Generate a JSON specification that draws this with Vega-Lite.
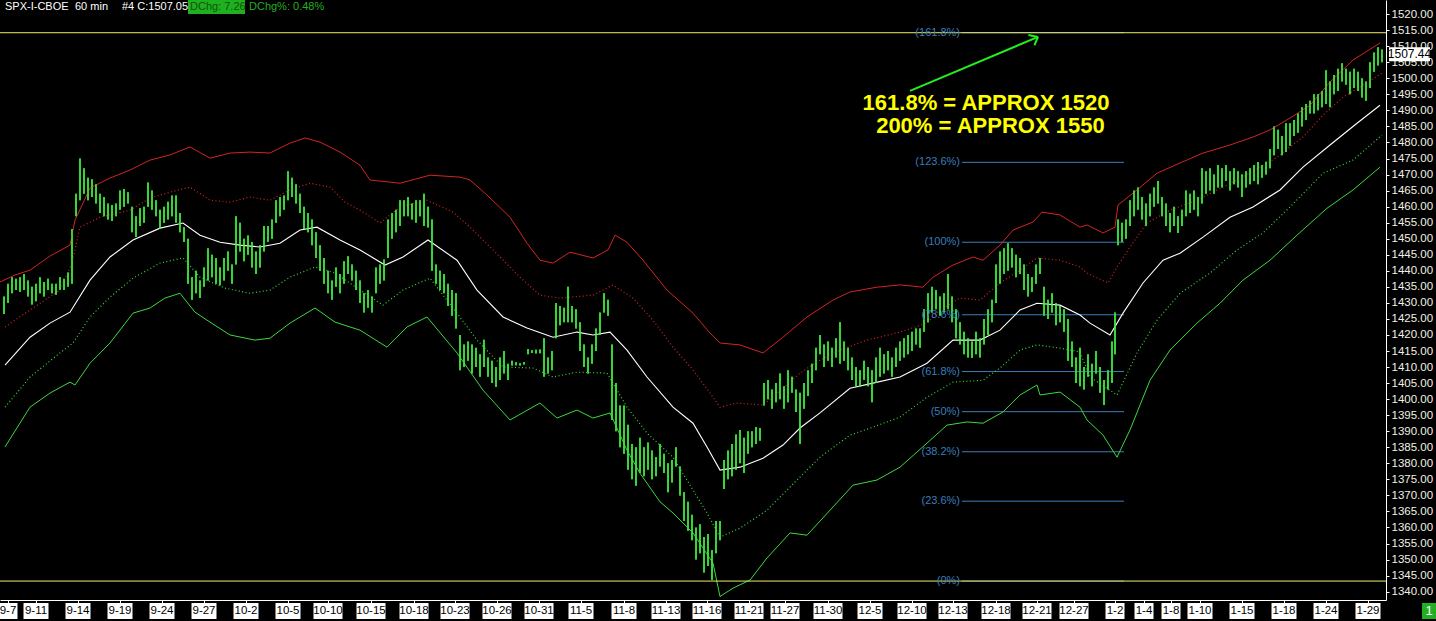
{
"$schema":"https://vega.github.io/schema/vega-lite/v6.json",
"width":1386,"height":600,
"autosize":{"type":"none"},
"padding":{"left":0,"top":0,"right":50,"bottom":21},
"background":"#000000",
"config":{"view":{"stroke":null},"axis":{"grid":false,"title":null,"labelOverlap":false},"scale":{"continuousPadding":0}},
"resolve":{"axis":{"x":"independent","y":"independent"}},
"datasets":{
"bars":[
{"i":2,"lo":1426.5,"hi":1432},{"i":4,"lo":1430,"hi":1436},{"i":6,"lo":1433,"hi":1438},{"i":8,"lo":1434,"hi":1437.5},{"i":10,"lo":1433.5,"hi":1438},{"i":12,"lo":1434,"hi":1439},{"i":14,"lo":1432,"hi":1437},{"i":16,"lo":1429.5,"hi":1435},{"i":18,"lo":1430.5,"hi":1436},{"i":20,"lo":1433,"hi":1438},{"i":22,"lo":1432,"hi":1436.5},{"i":24,"lo":1434,"hi":1437.5},{"i":26,"lo":1433,"hi":1436},{"i":28,"lo":1432.5,"hi":1436},{"i":30,"lo":1434,"hi":1438},{"i":32,"lo":1434,"hi":1437.5},{"i":34,"lo":1435,"hi":1439.5},{"i":36,"lo":1436,"hi":1453},{"i":38,"lo":1457,"hi":1464},{"i":40,"lo":1462,"hi":1475},{"i":42,"lo":1464,"hi":1472},{"i":44,"lo":1462,"hi":1469},{"i":46,"lo":1463,"hi":1468.5},{"i":48,"lo":1461,"hi":1467},{"i":50,"lo":1458,"hi":1464},{"i":52,"lo":1457,"hi":1463},{"i":54,"lo":1456,"hi":1461},{"i":56,"lo":1455.5,"hi":1460.5},{"i":58,"lo":1457,"hi":1461},{"i":60,"lo":1459,"hi":1465},{"i":62,"lo":1460,"hi":1465.5},{"i":64,"lo":1461,"hi":1464.5},{"i":66,"lo":1452,"hi":1460},{"i":68,"lo":1450.5,"hi":1457},{"i":70,"lo":1454,"hi":1459.5},{"i":72,"lo":1455,"hi":1460},{"i":74,"lo":1460,"hi":1467.5},{"i":76,"lo":1459,"hi":1465},{"i":78,"lo":1457,"hi":1462},{"i":80,"lo":1453,"hi":1459},{"i":82,"lo":1455,"hi":1460},{"i":84,"lo":1456,"hi":1461.5},{"i":86,"lo":1457,"hi":1463.5},{"i":88,"lo":1455,"hi":1463.5},{"i":90,"lo":1452,"hi":1458},{"i":92,"lo":1449,"hi":1453.6},{"i":94,"lo":1436,"hi":1450},{"i":96,"lo":1431,"hi":1438},{"i":98,"lo":1433,"hi":1440},{"i":100,"lo":1431.5,"hi":1437},{"i":102,"lo":1435,"hi":1441},{"i":104,"lo":1437,"hi":1447},{"i":106,"lo":1438,"hi":1445},{"i":108,"lo":1436,"hi":1444},{"i":110,"lo":1435.5,"hi":1441},{"i":112,"lo":1437,"hi":1444},{"i":114,"lo":1440,"hi":1446},{"i":116,"lo":1436,"hi":1442},{"i":118,"lo":1442,"hi":1457},{"i":120,"lo":1446,"hi":1455},{"i":122,"lo":1443,"hi":1450},{"i":124,"lo":1445,"hi":1451},{"i":126,"lo":1441,"hi":1449},{"i":128,"lo":1439,"hi":1446},{"i":130,"lo":1441,"hi":1448},{"i":132,"lo":1446,"hi":1454},{"i":134,"lo":1449,"hi":1454},{"i":136,"lo":1450,"hi":1456},{"i":138,"lo":1455,"hi":1462},{"i":140,"lo":1457,"hi":1463},{"i":142,"lo":1459,"hi":1463.5},{"i":144,"lo":1462,"hi":1471},{"i":146,"lo":1463,"hi":1469},{"i":148,"lo":1461,"hi":1467},{"i":150,"lo":1458,"hi":1464},{"i":152,"lo":1453,"hi":1460},{"i":154,"lo":1452,"hi":1458},{"i":156,"lo":1448,"hi":1456},{"i":158,"lo":1444,"hi":1452},{"i":160,"lo":1440,"hi":1448},{"i":162,"lo":1436,"hi":1444},{"i":164,"lo":1433,"hi":1440},{"i":166,"lo":1431,"hi":1437},{"i":168,"lo":1435,"hi":1441},{"i":170,"lo":1433,"hi":1439},{"i":172,"lo":1436,"hi":1443},{"i":174,"lo":1439,"hi":1444.5},{"i":176,"lo":1437,"hi":1442},{"i":178,"lo":1434,"hi":1440},{"i":180,"lo":1430,"hi":1437},{"i":182,"lo":1427,"hi":1433},{"i":184,"lo":1428.5,"hi":1434},{"i":186,"lo":1427,"hi":1432},{"i":188,"lo":1433,"hi":1441},{"i":190,"lo":1436,"hi":1442},{"i":192,"lo":1437,"hi":1443.5},{"i":194,"lo":1444,"hi":1456},{"i":196,"lo":1450,"hi":1458},{"i":198,"lo":1452,"hi":1459},{"i":200,"lo":1454,"hi":1462},{"i":202,"lo":1457,"hi":1462},{"i":204,"lo":1457,"hi":1463},{"i":206,"lo":1456,"hi":1461},{"i":208,"lo":1455,"hi":1462},{"i":210,"lo":1457,"hi":1462},{"i":212,"lo":1454,"hi":1464},{"i":214,"lo":1453.5,"hi":1460},{"i":216,"lo":1440,"hi":1456},{"i":218,"lo":1436,"hi":1442},{"i":220,"lo":1434,"hi":1440},{"i":222,"lo":1433,"hi":1439},{"i":224,"lo":1429,"hi":1436},{"i":226,"lo":1426,"hi":1434},{"i":228,"lo":1422,"hi":1433},{"i":230,"lo":1409,"hi":1420},{"i":232,"lo":1410,"hi":1417},{"i":234,"lo":1412,"hi":1418},{"i":236,"lo":1408,"hi":1417},{"i":238,"lo":1410,"hi":1416},{"i":240,"lo":1407,"hi":1414},{"i":242,"lo":1410,"hi":1418.5},{"i":244,"lo":1407,"hi":1413},{"i":246,"lo":1405,"hi":1412},{"i":248,"lo":1403.8,"hi":1410},{"i":250,"lo":1406,"hi":1413},{"i":252,"lo":1408,"hi":1415},{"i":254,"lo":1406,"hi":1411},{"i":256,"lo":1410.5,"hi":1412},{"i":258,"lo":1410.6,"hi":1411.5},{"i":260,"lo":1410.5,"hi":1411.2},{"i":262,"lo":1410.8,"hi":1411.6},{"i":264,"lo":1414,"hi":1415.6},{"i":266,"lo":1414.4,"hi":1415.2},{"i":268,"lo":1414.2,"hi":1415.4},{"i":270,"lo":1414.3,"hi":1415.5},{"i":272,"lo":1407,"hi":1419},{"i":274,"lo":1408,"hi":1413},{"i":276,"lo":1409,"hi":1415},{"i":278,"lo":1419,"hi":1430},{"i":280,"lo":1423,"hi":1429},{"i":282,"lo":1424,"hi":1428.5},{"i":284,"lo":1424,"hi":1435},{"i":286,"lo":1424,"hi":1429},{"i":288,"lo":1422,"hi":1428},{"i":290,"lo":1415,"hi":1424},{"i":292,"lo":1410,"hi":1417},{"i":294,"lo":1408,"hi":1413},{"i":296,"lo":1411,"hi":1417},{"i":298,"lo":1415,"hi":1422},{"i":300,"lo":1420,"hi":1427},{"i":302,"lo":1427,"hi":1433},{"i":304,"lo":1426,"hi":1431},{"i":306,"lo":1393.5,"hi":1417},{"i":308,"lo":1390,"hi":1405},{"i":310,"lo":1385,"hi":1398},{"i":312,"lo":1383,"hi":1398},{"i":314,"lo":1378,"hi":1392},{"i":316,"lo":1375,"hi":1386},{"i":318,"lo":1373,"hi":1385},{"i":320,"lo":1377,"hi":1388},{"i":322,"lo":1376,"hi":1385},{"i":324,"lo":1378,"hi":1386.5},{"i":326,"lo":1375,"hi":1384},{"i":328,"lo":1376,"hi":1382},{"i":330,"lo":1379,"hi":1386},{"i":332,"lo":1377,"hi":1383},{"i":334,"lo":1371,"hi":1380},{"i":336,"lo":1374,"hi":1381},{"i":338,"lo":1379,"hi":1385},{"i":340,"lo":1370,"hi":1379},{"i":342,"lo":1362,"hi":1371},{"i":344,"lo":1359,"hi":1368},{"i":346,"lo":1356,"hi":1364},{"i":348,"lo":1350,"hi":1360},{"i":350,"lo":1352,"hi":1361},{"i":352,"lo":1346,"hi":1357},{"i":354,"lo":1348,"hi":1358},{"i":356,"lo":1343.6,"hi":1353},{"i":358,"lo":1352,"hi":1362},{"i":360,"lo":1356,"hi":1362},{"i":362,"lo":1372,"hi":1381},{"i":364,"lo":1375,"hi":1384},{"i":366,"lo":1376,"hi":1386},{"i":368,"lo":1378,"hi":1389},{"i":370,"lo":1380,"hi":1390.4},{"i":372,"lo":1377,"hi":1388},{"i":374,"lo":1383,"hi":1390},{"i":376,"lo":1385,"hi":1390},{"i":378,"lo":1386,"hi":1391.3},{"i":380,"lo":1387,"hi":1391},{"i":382,"lo":1398,"hi":1405},{"i":384,"lo":1400,"hi":1406},{"i":386,"lo":1397,"hi":1403},{"i":388,"lo":1399,"hi":1405},{"i":390,"lo":1400,"hi":1408},{"i":392,"lo":1397,"hi":1404},{"i":394,"lo":1399,"hi":1409},{"i":396,"lo":1402,"hi":1407},{"i":398,"lo":1396,"hi":1403},{"i":400,"lo":1386,"hi":1402},{"i":402,"lo":1397,"hi":1405},{"i":404,"lo":1401,"hi":1409},{"i":406,"lo":1405,"hi":1411},{"i":408,"lo":1409,"hi":1416},{"i":410,"lo":1414,"hi":1420},{"i":412,"lo":1410,"hi":1417},{"i":414,"lo":1412,"hi":1418},{"i":416,"lo":1410,"hi":1416},{"i":418,"lo":1413,"hi":1419},{"i":420,"lo":1411,"hi":1424},{"i":422,"lo":1412,"hi":1418},{"i":424,"lo":1409,"hi":1416},{"i":426,"lo":1406,"hi":1413},{"i":428,"lo":1404,"hi":1410},{"i":430,"lo":1403.8,"hi":1409},{"i":432,"lo":1406,"hi":1412},{"i":434,"lo":1404,"hi":1410},{"i":436,"lo":1399,"hi":1409},{"i":438,"lo":1405,"hi":1413},{"i":440,"lo":1407,"hi":1416},{"i":442,"lo":1408,"hi":1414},{"i":444,"lo":1409,"hi":1415},{"i":446,"lo":1407,"hi":1413},{"i":448,"lo":1410,"hi":1416},{"i":450,"lo":1412,"hi":1418},{"i":452,"lo":1413,"hi":1419},{"i":454,"lo":1414,"hi":1420},{"i":456,"lo":1415,"hi":1421},{"i":458,"lo":1417,"hi":1422},{"i":460,"lo":1416,"hi":1422},{"i":462,"lo":1421,"hi":1428},{"i":464,"lo":1424,"hi":1433},{"i":466,"lo":1427,"hi":1435},{"i":468,"lo":1428,"hi":1434},{"i":470,"lo":1426,"hi":1432},{"i":472,"lo":1427,"hi":1433},{"i":474,"lo":1428,"hi":1439},{"i":476,"lo":1424,"hi":1432},{"i":478,"lo":1419,"hi":1428},{"i":480,"lo":1417,"hi":1424},{"i":482,"lo":1414,"hi":1421},{"i":484,"lo":1413,"hi":1419},{"i":486,"lo":1412.8,"hi":1418},{"i":488,"lo":1414,"hi":1421},{"i":490,"lo":1413,"hi":1419},{"i":492,"lo":1417,"hi":1425},{"i":494,"lo":1420,"hi":1428},{"i":496,"lo":1424,"hi":1431},{"i":498,"lo":1430,"hi":1442},{"i":500,"lo":1436,"hi":1446},{"i":502,"lo":1439,"hi":1447},{"i":504,"lo":1440,"hi":1448.6},{"i":506,"lo":1441,"hi":1447},{"i":508,"lo":1438,"hi":1445},{"i":510,"lo":1439,"hi":1444},{"i":512,"lo":1434,"hi":1442},{"i":514,"lo":1432,"hi":1439},{"i":516,"lo":1433.4,"hi":1438},{"i":518,"lo":1436,"hi":1442},{"i":520,"lo":1439,"hi":1444},{"i":522,"lo":1426,"hi":1435},{"i":524,"lo":1425,"hi":1431},{"i":526,"lo":1427,"hi":1433},{"i":528,"lo":1423,"hi":1430},{"i":530,"lo":1424,"hi":1429},{"i":532,"lo":1421,"hi":1428},{"i":534,"lo":1412,"hi":1425},{"i":536,"lo":1410,"hi":1418},{"i":538,"lo":1405,"hi":1413},{"i":540,"lo":1404,"hi":1416},{"i":542,"lo":1403,"hi":1410},{"i":544,"lo":1407,"hi":1414},{"i":546,"lo":1404,"hi":1411},{"i":548,"lo":1408,"hi":1415},{"i":550,"lo":1402,"hi":1410},{"i":552,"lo":1398.2,"hi":1406},{"i":554,"lo":1403,"hi":1409},{"i":556,"lo":1405,"hi":1418},{"i":557.5,"lo":1414,"hi":1427},{"i":559,"lo":1448,"hi":1456},{"i":561,"lo":1449,"hi":1455},{"i":563,"lo":1450,"hi":1456},{"i":565,"lo":1454,"hi":1462},{"i":567,"lo":1457,"hi":1465},{"i":569,"lo":1459,"hi":1466},{"i":571,"lo":1456,"hi":1463},{"i":573,"lo":1454,"hi":1461},{"i":575,"lo":1457,"hi":1464},{"i":577,"lo":1460,"hi":1466},{"i":579,"lo":1461,"hi":1468},{"i":581,"lo":1457,"hi":1463},{"i":583,"lo":1454,"hi":1461},{"i":585,"lo":1452,"hi":1458},{"i":587,"lo":1454,"hi":1460},{"i":589,"lo":1451.8,"hi":1457},{"i":591,"lo":1454,"hi":1459},{"i":593,"lo":1457,"hi":1465},{"i":595,"lo":1458,"hi":1464},{"i":597,"lo":1459,"hi":1465},{"i":599,"lo":1457,"hi":1463},{"i":601,"lo":1461,"hi":1472},{"i":603,"lo":1464,"hi":1471},{"i":605,"lo":1465,"hi":1472},{"i":607,"lo":1464,"hi":1470},{"i":609,"lo":1466,"hi":1473},{"i":611,"lo":1466,"hi":1472},{"i":613,"lo":1468,"hi":1473},{"i":615,"lo":1465,"hi":1471},{"i":617,"lo":1467,"hi":1472},{"i":619,"lo":1466,"hi":1471},{"i":621,"lo":1463,"hi":1470},{"i":623,"lo":1466,"hi":1471},{"i":625,"lo":1467,"hi":1472},{"i":627,"lo":1468,"hi":1473},{"i":629,"lo":1467,"hi":1473.9},{"i":631,"lo":1469,"hi":1473},{"i":633,"lo":1470,"hi":1474},{"i":635,"lo":1472,"hi":1478},{"i":637,"lo":1476,"hi":1485},{"i":639,"lo":1478,"hi":1484},{"i":641,"lo":1476,"hi":1482},{"i":643,"lo":1477,"hi":1486},{"i":645,"lo":1479,"hi":1486},{"i":647,"lo":1482,"hi":1487},{"i":649,"lo":1483,"hi":1489},{"i":651,"lo":1485,"hi":1491},{"i":653,"lo":1487,"hi":1492},{"i":655,"lo":1489,"hi":1493},{"i":657,"lo":1489,"hi":1495},{"i":659,"lo":1490,"hi":1495},{"i":661,"lo":1491,"hi":1496},{"i":663,"lo":1492,"hi":1502.5},{"i":665,"lo":1491,"hi":1499},{"i":667,"lo":1495,"hi":1501},{"i":669,"lo":1496,"hi":1503},{"i":671,"lo":1499,"hi":1504.7},{"i":673,"lo":1498,"hi":1503},{"i":675,"lo":1495,"hi":1502},{"i":677,"lo":1497,"hi":1503},{"i":679,"lo":1496,"hi":1502},{"i":681,"lo":1494,"hi":1500},{"i":683,"lo":1493,"hi":1499},{"i":685,"lo":1497,"hi":1505},{"i":687,"lo":1502,"hi":1508},{"i":689,"lo":1504,"hi":1509.7},{"i":691,"lo":1505,"hi":1509}
],
"bands":[
{"s":"U","i":0,"p":1436.5},{"s":"U","i":7.5,"p":1438.7},{"s":"U","i":15,"p":1440.2},{"s":"U","i":25,"p":1444.6},{"s":"U","i":35,"p":1448.0},{"s":"U","i":37.5,"p":1455.8},{"s":"U","i":45,"p":1465.8},{"s":"U","i":55,"p":1468.9},{"s":"U","i":65,"p":1471.4},{"s":"U","i":75,"p":1474.5},{"s":"U","i":85,"p":1476.1},{"s":"U","i":95,"p":1478.6},{"s":"U","i":105,"p":1475.1},{"s":"U","i":115,"p":1476.7},{"s":"U","i":125,"p":1477.0},{"s":"U","i":135,"p":1476.7},{"s":"U","i":145,"p":1479.8},{"s":"U","i":152.5,"p":1481.4},{"s":"U","i":160,"p":1480.1},{"s":"U","i":170,"p":1477.0},{"s":"U","i":180,"p":1472.9},{"s":"U","i":185,"p":1468.3},{"s":"U","i":200,"p":1467.3},{"s":"U","i":215,"p":1469.8},{"s":"U","i":230,"p":1469.2},{"s":"U","i":235,"p":1468.3},{"s":"U","i":243.5,"p":1463.6},{"s":"U","i":255,"p":1456.7},{"s":"U","i":263.5,"p":1448.6},{"s":"U","i":270,"p":1443.3},{"s":"U","i":276.5,"p":1442.4},{"s":"U","i":285,"p":1445.8},{"s":"U","i":296.5,"p":1444.0},{"s":"U","i":304,"p":1446.5},{"s":"U","i":307.5,"p":1451.1},{"s":"U","i":313.5,"p":1448.9},{"s":"U","i":321.5,"p":1443.3},{"s":"U","i":333.5,"p":1434.0},{"s":"U","i":346.5,"p":1426.8},{"s":"U","i":355,"p":1420.6},{"s":"U","i":360,"p":1417.5},{"s":"U","i":370,"p":1416.9},{"s":"U","i":381.5,"p":1414.4},{"s":"U","i":391.5,"p":1419.3},{"s":"U","i":403.5,"p":1425.6},{"s":"U","i":416.5,"p":1430.9},{"s":"U","i":425,"p":1433.4},{"s":"U","i":438.5,"p":1434.9},{"s":"U","i":450,"p":1435.6},{"s":"U","i":461.5,"p":1434.9},{"s":"U","i":466.5,"p":1438.0},{"s":"U","i":476.5,"p":1441.8},{"s":"U","i":486.5,"p":1444.3},{"s":"U","i":491.5,"p":1443.3},{"s":"U","i":500,"p":1448.0},{"s":"U","i":506.5,"p":1452.7},{"s":"U","i":516.5,"p":1455.2},{"s":"U","i":521,"p":1458.3},{"s":"U","i":530,"p":1457.4},{"s":"U","i":540,"p":1453.6},{"s":"U","i":543.5,"p":1454.3},{"s":"U","i":551.5,"p":1451.8},{"s":"U","i":557.5,"p":1453.6},{"s":"U","i":559,"p":1460.5},{"s":"U","i":568.5,"p":1465.2},{"s":"U","i":578.5,"p":1470.4},{"s":"U","i":590,"p":1473.6},{"s":"U","i":601.5,"p":1476.7},{"s":"U","i":615,"p":1479.2},{"s":"U","i":626.5,"p":1481.7},{"s":"U","i":635,"p":1483.9},{"s":"U","i":645,"p":1487.6},{"s":"U","i":655,"p":1491.6},{"s":"U","i":665,"p":1498.8},{"s":"U","i":676.5,"p":1505.7},{"s":"U","i":690,"p":1511.0},
{"s":"RD","i":2.5,"p":1422.5},{"s":"RD","i":15,"p":1427.8},{"s":"RD","i":30,"p":1434.0},{"s":"RD","i":36,"p":1442.4},{"s":"RD","i":40,"p":1453.6},{"s":"RD","i":50,"p":1456.7},{"s":"RD","i":65,"p":1458.9},{"s":"RD","i":75,"p":1462.7},{"s":"RD","i":85,"p":1464.5},{"s":"RD","i":95,"p":1466.1},{"s":"RD","i":105,"p":1462.0},{"s":"RD","i":115,"p":1461.4},{"s":"RD","i":125,"p":1463.0},{"s":"RD","i":135,"p":1462.0},{"s":"RD","i":145,"p":1465.2},{"s":"RD","i":155,"p":1467.3},{"s":"RD","i":165,"p":1466.1},{"s":"RD","i":172.5,"p":1461.4},{"s":"RD","i":180,"p":1458.9},{"s":"RD","i":190,"p":1454.9},{"s":"RD","i":200,"p":1459.9},{"s":"RD","i":213.5,"p":1462.0},{"s":"RD","i":226.5,"p":1458.3},{"s":"RD","i":235,"p":1453.6},{"s":"RD","i":246.5,"p":1446.5},{"s":"RD","i":260,"p":1438.0},{"s":"RD","i":270,"p":1432.4},{"s":"RD","i":280,"p":1431.5},{"s":"RD","i":296.5,"p":1432.4},{"s":"RD","i":306.5,"p":1435.6},{"s":"RD","i":316.5,"p":1431.5},{"s":"RD","i":326.5,"p":1424.6},{"s":"RD","i":336.5,"p":1416.2},{"s":"RD","i":346.5,"p":1409.1},{"s":"RD","i":355,"p":1401.9},{"s":"RD","i":360,"p":1397.5},{"s":"RD","i":368.5,"p":1398.8},{"s":"RD","i":381.5,"p":1398.2},{"s":"RD","i":391.5,"p":1403.4},{"s":"RD","i":400,"p":1408.1},{"s":"RD","i":408.5,"p":1411.6},{"s":"RD","i":420,"p":1415.3},{"s":"RD","i":433.5,"p":1418.4},{"s":"RD","i":450,"p":1420.9},{"s":"RD","i":463.5,"p":1423.7},{"s":"RD","i":470,"p":1427.8},{"s":"RD","i":480,"p":1431.5},{"s":"RD","i":490,"p":1430.9},{"s":"RD","i":500,"p":1436.2},{"s":"RD","i":510,"p":1440.2},{"s":"RD","i":518.5,"p":1444.0},{"s":"RD","i":530,"p":1443.3},{"s":"RD","i":540,"p":1441.2},{"s":"RD","i":543.5,"p":1439.3},{"s":"RD","i":554,"p":1436.2},{"s":"RD","i":558.5,"p":1441.2},{"s":"RD","i":565,"p":1447.4},{"s":"RD","i":573.5,"p":1454.9},{"s":"RD","i":585,"p":1458.9},{"s":"RD","i":598.5,"p":1462.0},{"s":"RD","i":611.5,"p":1466.1},{"s":"RD","i":625,"p":1470.4},{"s":"RD","i":638.5,"p":1475.4},{"s":"RD","i":651.5,"p":1481.7},{"s":"RD","i":661.5,"p":1488.5},{"s":"RD","i":671.5,"p":1494.1},{"s":"RD","i":681.5,"p":1497.9},{"s":"RD","i":691,"p":1501.6},
{"s":"W","i":2.5,"p":1410.6},{"s":"W","i":15,"p":1419.3},{"s":"W","i":25,"p":1423.7},{"s":"W","i":35,"p":1427.1},{"s":"W","i":45,"p":1437.1},{"s":"W","i":55,"p":1444.3},{"s":"W","i":66.5,"p":1449.6},{"s":"W","i":80,"p":1453.3},{"s":"W","i":91.5,"p":1454.9},{"s":"W","i":100,"p":1451.1},{"s":"W","i":110,"p":1448.9},{"s":"W","i":120,"p":1448.0},{"s":"W","i":130,"p":1447.4},{"s":"W","i":140,"p":1448.6},{"s":"W","i":150,"p":1452.7},{"s":"W","i":158.5,"p":1453.6},{"s":"W","i":170,"p":1449.6},{"s":"W","i":180,"p":1446.5},{"s":"W","i":192.5,"p":1441.8},{"s":"W","i":201.5,"p":1444.3},{"s":"W","i":214,"p":1449.6},{"s":"W","i":228.5,"p":1443.3},{"s":"W","i":238.5,"p":1434.0},{"s":"W","i":251.5,"p":1425.6},{"s":"W","i":263.5,"p":1422.2},{"s":"W","i":276.5,"p":1419.3},{"s":"W","i":288.5,"p":1420.9},{"s":"W","i":296.5,"p":1420.0},{"s":"W","i":305,"p":1420.9},{"s":"W","i":313.5,"p":1415.3},{"s":"W","i":323.5,"p":1406.9},{"s":"W","i":336.5,"p":1397.5},{"s":"W","i":346.5,"p":1392.5},{"s":"W","i":353.5,"p":1385.1},{"s":"W","i":360,"p":1377.9},{"s":"W","i":370,"p":1378.8},{"s":"W","i":381.5,"p":1381.6},{"s":"W","i":391.5,"p":1385.7},{"s":"W","i":400,"p":1391.0},{"s":"W","i":410,"p":1395.7},{"s":"W","i":425,"p":1403.4},{"s":"W","i":436.5,"p":1405.0},{"s":"W","i":450,"p":1406.9},{"s":"W","i":463.5,"p":1411.2},{"s":"W","i":476.5,"p":1418.4},{"s":"W","i":490,"p":1418.4},{"s":"W","i":500,"p":1421.5},{"s":"W","i":510,"p":1427.8},{"s":"W","i":518.5,"p":1429.9},{"s":"W","i":530,"p":1429.3},{"s":"W","i":540,"p":1426.2},{"s":"W","i":545,"p":1423.7},{"s":"W","i":555,"p":1420.0},{"s":"W","i":561.5,"p":1426.8},{"s":"W","i":571.5,"p":1436.2},{"s":"W","i":581.5,"p":1443.3},{"s":"W","i":590,"p":1445.5},{"s":"W","i":601.5,"p":1450.5},{"s":"W","i":615,"p":1456.7},{"s":"W","i":626.5,"p":1459.9},{"s":"W","i":640,"p":1465.2},{"s":"W","i":651.5,"p":1472.3},{"s":"W","i":665,"p":1479.2},{"s":"W","i":678.5,"p":1486.0},{"s":"W","i":690,"p":1491.6},
{"s":"GD","i":2.5,"p":1397.5},{"s":"GD","i":15,"p":1406.9},{"s":"GD","i":30,"p":1414.4},{"s":"GD","i":36.5,"p":1417.5},{"s":"GD","i":45,"p":1425.6},{"s":"GD","i":55,"p":1431.8},{"s":"GD","i":66.5,"p":1437.7},{"s":"GD","i":80,"p":1442.4},{"s":"GD","i":91.5,"p":1444.0},{"s":"GD","i":100,"p":1438.0},{"s":"GD","i":112.5,"p":1434.6},{"s":"GD","i":125,"p":1433.0},{"s":"GD","i":135,"p":1434.0},{"s":"GD","i":145,"p":1438.0},{"s":"GD","i":157.5,"p":1441.2},{"s":"GD","i":167.5,"p":1439.3},{"s":"GD","i":180,"p":1434.0},{"s":"GD","i":191.5,"p":1429.3},{"s":"GD","i":201.5,"p":1434.0},{"s":"GD","i":215,"p":1437.7},{"s":"GD","i":228.5,"p":1426.8},{"s":"GD","i":238.5,"p":1418.4},{"s":"GD","i":251.5,"p":1410.0},{"s":"GD","i":266.5,"p":1409.7},{"s":"GD","i":276.5,"p":1406.9},{"s":"GD","i":288.5,"p":1408.4},{"s":"GD","i":303.5,"p":1408.1},{"s":"GD","i":313.5,"p":1397.5},{"s":"GD","i":323.5,"p":1389.4},{"s":"GD","i":336.5,"p":1381.9},{"s":"GD","i":346.5,"p":1371.7},{"s":"GD","i":353.5,"p":1364.5},{"s":"GD","i":360,"p":1357.0},{"s":"GD","i":370,"p":1359.8},{"s":"GD","i":383.5,"p":1365.4},{"s":"GD","i":398.5,"p":1374.8},{"s":"GD","i":410,"p":1381.9},{"s":"GD","i":425,"p":1388.8},{"s":"GD","i":436.5,"p":1391.3},{"s":"GD","i":450,"p":1394.4},{"s":"GD","i":463.5,"p":1400.6},{"s":"GD","i":476.5,"p":1405.3},{"s":"GD","i":491.5,"p":1405.9},{"s":"GD","i":500,"p":1409.7},{"s":"GD","i":510,"p":1415.3},{"s":"GD","i":518.5,"p":1416.9},{"s":"GD","i":530,"p":1415.9},{"s":"GD","i":540,"p":1414.7},{"s":"GD","i":545,"p":1406.9},{"s":"GD","i":558.5,"p":1401.3},{"s":"GD","i":568.5,"p":1414.4},{"s":"GD","i":578.5,"p":1424.6},{"s":"GD","i":590,"p":1433.0},{"s":"GD","i":605,"p":1439.3},{"s":"GD","i":618.5,"p":1446.5},{"s":"GD","i":631.5,"p":1451.8},{"s":"GD","i":645,"p":1459.9},{"s":"GD","i":661.5,"p":1470.4},{"s":"GD","i":676.5,"p":1474.5},{"s":"GD","i":691,"p":1482.3},
{"s":"G","i":2.5,"p":1385.1},{"s":"G","i":15,"p":1397.5},{"s":"G","i":25,"p":1401.9},{"s":"G","i":35,"p":1405.3},{"s":"G","i":37.5,"p":1404.4},{"s":"G","i":45,"p":1411.2},{"s":"G","i":55,"p":1417.5},{"s":"G","i":66.5,"p":1426.8},{"s":"G","i":75,"p":1428.4},{"s":"G","i":82.5,"p":1431.5},{"s":"G","i":90,"p":1433.0},{"s":"G","i":97.5,"p":1427.1},{"s":"G","i":105,"p":1424.0},{"s":"G","i":115,"p":1420.0},{"s":"G","i":127.5,"p":1418.4},{"s":"G","i":135,"p":1419.0},{"s":"G","i":145,"p":1423.7},{"s":"G","i":157.5,"p":1428.4},{"s":"G","i":167.5,"p":1424.0},{"s":"G","i":180,"p":1421.5},{"s":"G","i":193.5,"p":1416.2},{"s":"G","i":203.5,"p":1422.5},{"s":"G","i":213.5,"p":1425.6},{"s":"G","i":228.5,"p":1414.4},{"s":"G","i":241.5,"p":1402.8},{"s":"G","i":255,"p":1393.5},{"s":"G","i":270,"p":1398.8},{"s":"G","i":278.5,"p":1394.1},{"s":"G","i":288.5,"p":1396.6},{"s":"G","i":296.5,"p":1394.1},{"s":"G","i":305,"p":1395.7},{"s":"G","i":313.5,"p":1384.1},{"s":"G","i":320,"p":1376.9},{"s":"G","i":330,"p":1368.0},{"s":"G","i":336.5,"p":1364.5},{"s":"G","i":346.5,"p":1358.3},{"s":"G","i":356.5,"p":1348.9},{"s":"G","i":360,"p":1338.5},{"s":"G","i":366.5,"p":1341.1},{"s":"G","i":375,"p":1343.6},{"s":"G","i":383.5,"p":1350.5},{"s":"G","i":395,"p":1358.3},{"s":"G","i":403.5,"p":1357.6},{"s":"G","i":416.5,"p":1366.4},{"s":"G","i":426.5,"p":1373.2},{"s":"G","i":438.5,"p":1374.8},{"s":"G","i":450,"p":1378.8},{"s":"G","i":463.5,"p":1386.3},{"s":"G","i":473.5,"p":1391.9},{"s":"G","i":483.5,"p":1392.9},{"s":"G","i":491.5,"p":1392.5},{"s":"G","i":501.5,"p":1396.0},{"s":"G","i":510,"p":1401.3},{"s":"G","i":518.5,"p":1404.4},{"s":"G","i":520,"p":1401.3},{"s":"G","i":530,"p":1402.2},{"s":"G","i":540,"p":1397.5},{"s":"G","i":543.5,"p":1393.5},{"s":"G","i":551.5,"p":1388.8},{"s":"G","i":558.5,"p":1381.9},{"s":"G","i":565,"p":1390.4},{"s":"G","i":575,"p":1405.9},{"s":"G","i":585,"p":1415.3},{"s":"G","i":598.5,"p":1423.7},{"s":"G","i":610,"p":1429.9},{"s":"G","i":621.5,"p":1437.1},{"s":"G","i":635,"p":1443.3},{"s":"G","i":648.5,"p":1451.1},{"s":"G","i":663.5,"p":1459.5},{"s":"G","i":676.5,"p":1465.2},{"s":"G","i":690,"p":1472.3}
],
"fib":[{"l":"(0%)","p":1343.3},{"l":"(23.6%)","p":1368.2},{"l":"(38.2%)","p":1383.6},{"l":"(50%)","p":1396.1},{"l":"(61.8%)","p":1408.6},{"l":"(78.6%)","p":1426.3},{"l":"(100%)","p":1448.9},{"l":"(123.6%)","p":1473.8},{"l":"(161.8%)","p":1514.2}],
"yl":[{"p":1514.2},{"p":1343.3}],
"arrow":[{"g":"a","i":455,"p":1496.1},{"g":"a","i":519,"p":1512.9},{"g":"b","i":514.2,"p":1513.5},{"g":"b","i":519,"p":1512.9},{"g":"c","i":517.2,"p":1510.3},{"g":"c","i":519,"p":1512.9}],
"xl":[{"i":4,"t":"9-7"},{"i":18,"t":"9-11"},{"i":39,"t":"9-14"},{"i":60,"t":"9-19"},{"i":81,"t":"9-24"},{"i":102,"t":"9-27"},{"i":123,"t":"10-2"},{"i":144,"t":"10-5"},{"i":164,"t":"10-10"},{"i":185.5,"t":"10-15"},{"i":207,"t":"10-18"},{"i":227.5,"t":"10-23"},{"i":248.5,"t":"10-26"},{"i":269.5,"t":"10-31"},{"i":290.5,"t":"11-5"},{"i":312,"t":"11-8"},{"i":333,"t":"11-13"},{"i":353.5,"t":"11-16"},{"i":374.5,"t":"11-21"},{"i":392.5,"t":"11-27"},{"i":414,"t":"11-30"},{"i":435,"t":"12-5"},{"i":456,"t":"12-10"},{"i":476.5,"t":"12-13"},{"i":498,"t":"12-18"},{"i":518.5,"t":"12-21"},{"i":537,"t":"12-27"},{"i":557.5,"t":"1-2"},{"i":572,"t":"1-4"},{"i":585.5,"t":"1-8"},{"i":600,"t":"1-10"},{"i":621,"t":"1-15"},{"i":642,"t":"1-18"},{"i":663,"t":"1-24"},{"i":684,"t":"1-29"}]
},
"layer":[
{"data":{"name":"bars"},"mark":{"type":"rule","color":"#3ae63a","strokeWidth":1.5},
 "encoding":{"x":{"field":"i","type":"quantitative","scale":{"domain":[0,693],"nice":false,"zero":false,"padding":0},
   "axis":{"orient":"bottom","values":[4,18,39,60,81,102,123,144,164,185.5,207,227.5,248.5,269.5,290.5,312,333,353.5,374.5,392.5,414,435,456,476.5,498,518.5,537,557.5,572,585.5,600,621,642,663,684],"labels":false,"ticks":true,"tickColor":"#ffffff","tickSize":3,"domainColor":"#ffffff","title":null}},
  "y":{"field":"lo","type":"quantitative","scale":{"domain":[1337.4,1524.4],"nice":false,"zero":false,"padding":0},
   "axis":{"orient":"right","values":[1340,1345,1350,1355,1360,1365,1370,1375,1380,1385,1390,1395,1400,1405,1410,1415,1420,1425,1430,1435,1440,1445,1450,1455,1460,1465,1470,1475,1480,1485,1490,1495,1500,1505,1510,1515,1520],"format":".2f","labelOverlap":false,"labelColor":"#f2f0e2","labelFont":"Liberation Sans","labelFontSize":11.5,"labelPadding":2,"tickColor":"#ffffff","tickSize":3,"domainColor":"#ffffff","title":null}},
  "y2":{"field":"hi"}}},
{"data":{"name":"fib"},"mark":{"type":"rule","color":"#3a7dbd","strokeWidth":1},
 "encoding":{"x":{"datum":481,"type":"quantitative","scale":{"domain":[0,693],"nice":false,"zero":false,"padding":0},"axis":null},"x2":{"datum":562},"y":{"field":"p","type":"quantitative","scale":{"domain":[1337.4,1524.4],"nice":false,"zero":false,"padding":0},"axis":null}}},
{"data":{"name":"bands"},"transform":[{"filter":"datum.s=='U'"}],"mark":{"type":"line","color":"#d42424","strokeWidth":1},
 "encoding":{"x":{"field":"i","type":"quantitative","scale":{"domain":[0,693],"nice":false,"zero":false,"padding":0},"axis":null},"y":{"field":"p","type":"quantitative","scale":{"domain":[1337.4,1524.4],"nice":false,"zero":false,"padding":0},"axis":null}}},
{"data":{"name":"bands"},"transform":[{"filter":"datum.s=='RD'"}],"mark":{"type":"line","color":"#d42424","strokeWidth":1.2,"strokeDash":[1,2.5]},
 "encoding":{"x":{"field":"i","type":"quantitative","scale":{"domain":[0,693],"nice":false,"zero":false,"padding":0},"axis":null},"y":{"field":"p","type":"quantitative","scale":{"domain":[1337.4,1524.4],"nice":false,"zero":false,"padding":0},"axis":null}}},
{"data":{"name":"bands"},"transform":[{"filter":"datum.s=='W'"}],"mark":{"type":"line","color":"#ffffff","strokeWidth":1.1},
 "encoding":{"x":{"field":"i","type":"quantitative","scale":{"domain":[0,693],"nice":false,"zero":false,"padding":0},"axis":null},"y":{"field":"p","type":"quantitative","scale":{"domain":[1337.4,1524.4],"nice":false,"zero":false,"padding":0},"axis":null}}},
{"data":{"name":"bands"},"transform":[{"filter":"datum.s=='GD'"}],"mark":{"type":"line","color":"#3ed83e","strokeWidth":1.2,"strokeDash":[1,2.5]},
 "encoding":{"x":{"field":"i","type":"quantitative","scale":{"domain":[0,693],"nice":false,"zero":false,"padding":0},"axis":null},"y":{"field":"p","type":"quantitative","scale":{"domain":[1337.4,1524.4],"nice":false,"zero":false,"padding":0},"axis":null}}},
{"data":{"name":"bands"},"transform":[{"filter":"datum.s=='G'"}],"mark":{"type":"line","color":"#3ed83e","strokeWidth":1},
 "encoding":{"x":{"field":"i","type":"quantitative","scale":{"domain":[0,693],"nice":false,"zero":false,"padding":0},"axis":null},"y":{"field":"p","type":"quantitative","scale":{"domain":[1337.4,1524.4],"nice":false,"zero":false,"padding":0},"axis":null}}},
{"data":{"name":"bars"},"mark":{"type":"rule","color":"#3ae63a","strokeWidth":1.5},
 "encoding":{"x":{"field":"i","type":"quantitative","scale":{"domain":[0,693],"nice":false,"zero":false,"padding":0},"axis":null},"y":{"field":"lo","type":"quantitative","scale":{"domain":[1337.4,1524.4],"nice":false,"zero":false,"padding":0},"axis":null},"y2":{"field":"hi"}}},
{"data":{"name":"yl"},"mark":{"type":"rule","color":"#eeee66","strokeWidth":1},
 "encoding":{"y":{"field":"p","type":"quantitative","scale":{"domain":[1337.4,1524.4],"nice":false,"zero":false,"padding":0},"axis":null}}},
{"data":{"name":"fib"},"mark":{"type":"text","color":"#3a7dbd","align":"right","baseline":"middle","font":"Liberation Sans","fontSize":11},
 "encoding":{"x":{"datum":480,"type":"quantitative","scale":{"domain":[0,693],"nice":false,"zero":false,"padding":0},"axis":null},"y":{"field":"p","type":"quantitative","scale":{"domain":[1337.4,1524.4],"nice":false,"zero":false,"padding":0},"axis":null},"text":{"field":"l"}}},
{"data":{"values":[{}]},"mark":{"type":"text","text":"161.8% = APPROX 1520","color":"#ffff00","align":"center","baseline":"middle","font":"Liberation Sans","fontWeight":"bold","fontSize":22},
 "encoding":{"x":{"datum":493,"type":"quantitative","scale":{"domain":[0,693],"nice":false,"zero":false,"padding":0},"axis":null},"y":{"datum":1492.3,"type":"quantitative","scale":{"domain":[1337.4,1524.4],"nice":false,"zero":false,"padding":0},"axis":null}}},
{"data":{"values":[{}]},"mark":{"type":"text","text":"200% = APPROX 1550","color":"#ffff00","align":"center","baseline":"middle","font":"Liberation Sans","fontWeight":"bold","fontSize":22},
 "encoding":{"x":{"datum":495.2,"type":"quantitative","scale":{"domain":[0,693],"nice":false,"zero":false,"padding":0},"axis":null},"y":{"datum":1485.1,"type":"quantitative","scale":{"domain":[1337.4,1524.4],"nice":false,"zero":false,"padding":0},"axis":null}}},
{"data":{"name":"arrow"},"mark":{"type":"line","color":"#22ee22","strokeWidth":2},
 "encoding":{"detail":{"field":"g"},"x":{"field":"i","type":"quantitative","scale":{"domain":[0,693],"nice":false,"zero":false,"padding":0},"axis":null},"y":{"field":"p","type":"quantitative","scale":{"domain":[1337.4,1524.4],"nice":false,"zero":false,"padding":0},"axis":null}}},
{"data":{"values":[{}]},"mark":{"type":"text","text":"SPX-I-CBOE","color":"#ffffff","align":"left","baseline":"middle","font":"Liberation Sans","fontSize":11},
 "encoding":{"x":{"datum":2.5,"type":"quantitative","scale":{"domain":[0,693],"nice":false,"zero":false,"padding":0},"axis":null},"y":{"datum":1522.2,"type":"quantitative","scale":{"domain":[1337.4,1524.4],"nice":false,"zero":false,"padding":0},"axis":null}}},
{"data":{"values":[{}]},"mark":{"type":"text","text":"60 min","color":"#ffffff","align":"left","baseline":"middle","font":"Liberation Sans","fontSize":11},
 "encoding":{"x":{"datum":37.5,"type":"quantitative","scale":{"domain":[0,693],"nice":false,"zero":false,"padding":0},"axis":null},"y":{"datum":1522.2,"type":"quantitative","scale":{"domain":[1337.4,1524.4],"nice":false,"zero":false,"padding":0},"axis":null}}},
{"data":{"values":[{}]},"mark":{"type":"text","text":"#4 C:1507.05","color":"#ffffff","align":"left","baseline":"middle","font":"Liberation Sans","fontSize":11},
 "encoding":{"x":{"datum":61,"type":"quantitative","scale":{"domain":[0,693],"nice":false,"zero":false,"padding":0},"axis":null},"y":{"datum":1522.2,"type":"quantitative","scale":{"domain":[1337.4,1524.4],"nice":false,"zero":false,"padding":0},"axis":null}}},
{"data":{"values":[{}]},"mark":{"type":"rect","color":"#1fb01f"},
 "encoding":{"x":{"datum":94,"type":"quantitative","scale":{"domain":[0,693],"nice":false,"zero":false,"padding":0},"axis":null},"x2":{"datum":122.5},"y":{"datum":1524.4,"type":"quantitative","scale":{"domain":[1337.4,1524.4],"nice":false,"zero":false,"padding":0},"axis":null},"y2":{"datum":1520.0}}},
{"data":{"values":[{}]},"mark":{"type":"text","text":"DChg: 7.26","color":"#0b560b","align":"left","baseline":"middle","font":"Liberation Sans","fontSize":11},
 "encoding":{"x":{"datum":95,"type":"quantitative","scale":{"domain":[0,693],"nice":false,"zero":false,"padding":0},"axis":null},"y":{"datum":1522.2,"type":"quantitative","scale":{"domain":[1337.4,1524.4],"nice":false,"zero":false,"padding":0},"axis":null}}},
{"data":{"values":[{}]},"mark":{"type":"text","text":"DChg%: 0.48%","color":"#22b022","align":"left","baseline":"middle","font":"Liberation Sans","fontSize":11},
 "encoding":{"x":{"datum":124.5,"type":"quantitative","scale":{"domain":[0,693],"nice":false,"zero":false,"padding":0},"axis":null},"y":{"datum":1522.2,"type":"quantitative","scale":{"domain":[1337.4,1524.4],"nice":false,"zero":false,"padding":0},"axis":null}}},
{"data":{"name":"xl"},"transform":[{"filter":"length(datum.t)==3"}],"mark":{"type":"bar","color":"#ffffff","width":19},
 "encoding":{"x":{"field":"i","type":"quantitative","scale":{"domain":[0,693],"nice":false,"zero":false,"padding":0},"axis":null},"y":{"datum":1336.46,"type":"quantitative","scale":{"domain":[1337.4,1524.4],"nice":false,"zero":false,"padding":0},"axis":null},"y2":{"datum":1331.48}}},
{"data":{"name":"xl"},"transform":[{"filter":"length(datum.t)==4"}],"mark":{"type":"bar","color":"#ffffff","width":25},
 "encoding":{"x":{"field":"i","type":"quantitative","scale":{"domain":[0,693],"nice":false,"zero":false,"padding":0},"axis":null},"y":{"datum":1336.46,"type":"quantitative","scale":{"domain":[1337.4,1524.4],"nice":false,"zero":false,"padding":0},"axis":null},"y2":{"datum":1331.48}}},
{"data":{"name":"xl"},"transform":[{"filter":"length(datum.t)==5"}],"mark":{"type":"bar","color":"#ffffff","width":29},
 "encoding":{"x":{"field":"i","type":"quantitative","scale":{"domain":[0,693],"nice":false,"zero":false,"padding":0},"axis":null},"y":{"datum":1336.46,"type":"quantitative","scale":{"domain":[1337.4,1524.4],"nice":false,"zero":false,"padding":0},"axis":null},"y2":{"datum":1331.48}}},
{"data":{"name":"xl"},"mark":{"type":"text","color":"#000000","align":"center","baseline":"middle","font":"Liberation Sans","fontSize":11.5},
 "encoding":{"x":{"field":"i","type":"quantitative","scale":{"domain":[0,693],"nice":false,"zero":false,"padding":0},"axis":null},"y":{"datum":1333.97,"type":"quantitative","scale":{"domain":[1337.4,1524.4],"nice":false,"zero":false,"padding":0},"axis":null},"text":{"field":"t"}}},
{"data":{"values":[{}]},"mark":{"type":"rect","color":"#ffffff"},
 "encoding":{"x":{"datum":694.5,"type":"quantitative","scale":{"domain":[0,693],"nice":false,"zero":false,"padding":0},"axis":null},"x2":{"datum":715},"y":{"datum":1509.7,"type":"quantitative","scale":{"domain":[1337.4,1524.4],"nice":false,"zero":false,"padding":0},"axis":null},"y2":{"datum":1505.3}}},
{"data":{"values":[{}]},"mark":{"type":"text","text":"1507.44","color":"#000000","align":"center","baseline":"middle","font":"Liberation Sans","fontSize":12},
 "encoding":{"x":{"datum":704.75,"type":"quantitative","scale":{"domain":[0,693],"nice":false,"zero":false,"padding":0},"axis":null},"y":{"datum":1507.44,"type":"quantitative","scale":{"domain":[1337.4,1524.4],"nice":false,"zero":false,"padding":0},"axis":null}}},
{"data":{"values":[{}]},"mark":{"type":"rect","color":"#22b022"},
 "encoding":{"x":{"datum":711,"type":"quantitative","scale":{"domain":[0,693],"nice":false,"zero":false,"padding":0},"axis":null},"x2":{"datum":718},"y":{"datum":1336.46,"type":"quantitative","scale":{"domain":[1337.4,1524.4],"nice":false,"zero":false,"padding":0},"axis":null},"y2":{"datum":1331.48}}},
{"data":{"values":[{}]},"mark":{"type":"text","text":"1","color":"#ffffff","align":"center","baseline":"middle","font":"Liberation Sans","fontSize":13},
 "encoding":{"x":{"datum":714.5,"type":"quantitative","scale":{"domain":[0,693],"nice":false,"zero":false,"padding":0},"axis":null},"y":{"datum":1333.97,"type":"quantitative","scale":{"domain":[1337.4,1524.4],"nice":false,"zero":false,"padding":0},"axis":null}}}
]
}
